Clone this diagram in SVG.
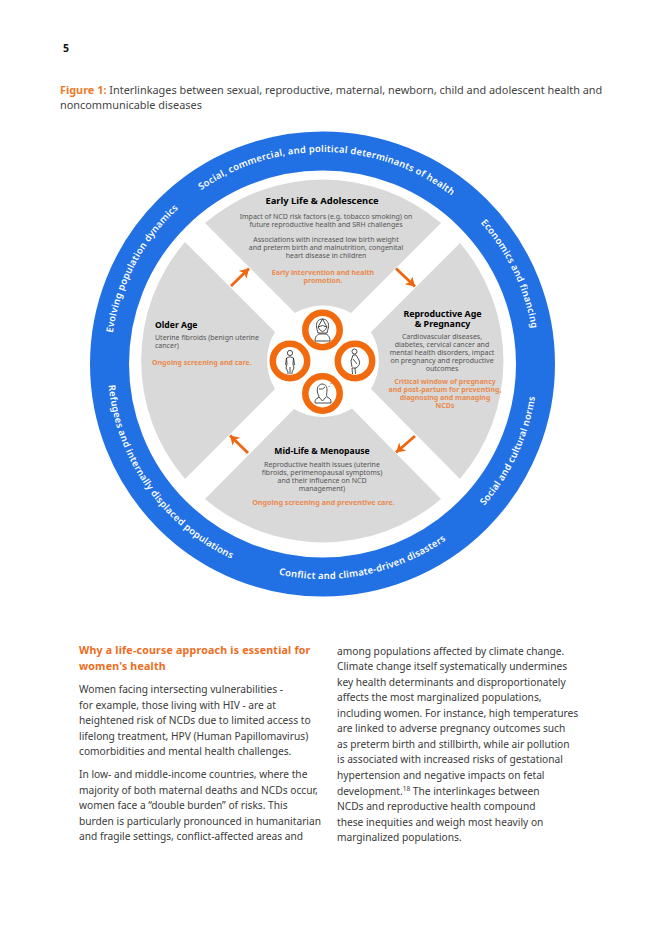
<svg xmlns="http://www.w3.org/2000/svg" width="662" height="936" viewBox="0 0 662 936">
<style>
text{font-family:"Noto Sans","Liberation Sans",sans-serif}
.t{font-size:8.6px;font-weight:700;fill:#000;text-anchor:middle}
.b{font-size:7px;fill:#555;text-anchor:middle}
.o{font-size:7px;font-weight:700;fill:#EA8A4E;text-anchor:middle}
.s{fill:#D9D9D9}
.r{font-size:9.4px;font-weight:600;fill:#fff;letter-spacing:.24px}
.p{font-size:10.2px;fill:#3a3a3a}
.h{font-size:10.6px;font-weight:700;fill:#EE6C1C;letter-spacing:.21px}
.c{font-size:10.9px;fill:#444}
.ring{fill:none;stroke:#F26A0E;stroke-width:6.5}
.ic{fill:none;stroke:#222;stroke-width:.8}
.a{fill:none;stroke:#F0650F;stroke-width:2.8;marker-end:url(#ah)}
</style>
<defs>
<marker id="ah" markerUnits="userSpaceOnUse" markerWidth="10" markerHeight="12" refX="9" refY="5.5" orient="auto"><path d="M0,0 L9,5.5 L0,11 L2.5,5.5Z" fill="#F0650F"/></marker>
<path id="cw" d="M322.5,576 A212,212 0 1 1 322.5,152 A212,212 0 1 1 322.5,576"/>
<path id="ccw" d="M322.5,149 A215,215 0 1 0 322.5,579 A215,215 0 1 0 322.5,149"/>
</defs>
<rect width="662" height="936" fill="#fff"/>
<text x="63" y="52" font-size="10.5" font-weight="700" fill="#111">5</text>
<text class="c" y="94"><tspan x="60" font-weight="700" fill="#EE7A2A">Figure 1:</tspan> Interlinkages between sexual, reproductive, maternal, newborn, child and adolescent health and</text>
<text class="c" x="60" y="109">noncommunicable diseases</text>

<g id="outer-ring">
<circle cx="322.5" cy="364" r="213" fill="none" stroke="#2170E4" stroke-width="39"/>
<text class="r"><textPath href="#cw" startOffset="536.5">Social, commercial, and political determinants of health</textPath></text>
<text class="r"><textPath href="#cw" startOffset="364">Evolving population dynamics</textPath></text>
<text class="r"><textPath href="#cw" startOffset="844">Economics and financing</textPath></text>
<text class="r"><textPath href="#ccw" startOffset="359">Refugees and internally displaced populations</textPath></text>
<text class="r"><textPath href="#ccw" startOffset="631">Conflict and climate-driven disasters</textPath></text>
<text class="r"><textPath href="#ccw" startOffset="858">Social and cultural norms</textPath></text>
</g>

<g id="early-life">
<path class="s" d="M295,313 L205,223 A182,182 0 0 1 441,223 L351,313 A55.5,55.5 0 0 0 295,313Z"/>
<text class="t" style="font-size:9.4px" x="322" y="204">Early Life &amp; Adolescence</text>
<text class="b" x="326" y="218.5">Impact of NCD risk factors (e.g. tobacco smoking) on</text>
<text class="b" x="326" y="226.7">future reproductive health and SRH challenges</text>
<text class="b" x="326" y="241.7">Associations with increased low birth weight</text>
<text class="b" x="326" y="249.7">and preterm birth and malnutrition, congenital</text>
<text class="b" x="326" y="257.7">heart disease in children</text>
<text class="o" x="323" y="275">Early intervention and health</text>
<text class="o" x="323" y="283">promotion.</text>
</g>
<g id="reproductive-age">
<path class="s" d="M371,332 L460,243 A182,182 0 0 1 460,479 L371,389 A55.5,55.5 0 0 0 371,332Z"/>
<text class="t" style="font-size:8.9px" x="442.500" y="316.500">Reproductive Age</text>
<text class="t" style="font-size:8.9px" x="442.500" y="326.500">&amp; Pregnancy</text>
<text class="b" x="442" y="339">Cardiovascular diseases,</text>
<text class="b" x="442" y="347">diabetes, cervical cancer and</text>
<text class="b" x="442" y="355">mental health disorders, impact</text>
<text class="b" x="442" y="363">on pregnancy and reproductive</text>
<text class="b" x="442" y="371">outcomes</text>
<text class="o" x="445" y="384">Critical window of pregnancy</text>
<text class="o" x="445" y="392">and post-partum for preventing,</text>
<text class="o" x="445" y="400">diagnosing and managing</text>
<text class="o" x="445" y="408">NCDs</text>
</g>
<g id="mid-life">
<path class="s" d="M294,409 L205,499 A182,182 0 0 0 441,499 L352,408.500 A55.5,55.5 0 0 1 294,409Z"/>
<text class="t" x="322" y="453.500">Mid-Life &amp; Menopause</text>
<text class="b" x="322" y="467">Reproductive health issues (uterine</text>
<text class="b" x="322" y="475">fibroids, perimenopausal symptoms)</text>
<text class="b" x="322" y="483">and their influence on NCD</text>
<text class="b" x="322" y="491">management)</text>
<text class="o" style="font-size:7.2px" x="323.500" y="505">Ongoing screening and preventive care.</text>
</g>
<g id="older-age">
<path class="s" d="M275,332 L185,242 A182,182 0 0 0 185,479 L275,389 A55.5,55.5 0 0 1 275,332Z"/>
<text class="t" style="text-anchor:start" x="155" y="327.500">Older Age</text>
<text class="b" style="text-anchor:start" x="155" y="340">Uterine fibroids (benign uterine</text>
<text class="b" style="text-anchor:start" x="155" y="348">cancer)</text>
<text class="o" style="text-anchor:start" x="152" y="364.700">Ongoing screening and care.</text>
</g>

<g id="connectors">
<path class="a" d="M231,286 L249,268.500"/>
<path class="a" d="M396,268.500 L415,286.500"/>
<path class="a" d="M415,436 L396,452.500"/>
<path class="a" d="M248,453 L230,435.500"/>
</g>

<g id="icon-early">
<circle class="ring" cx="322.500" cy="330" r="17.200"/>
<path class="ic" d="M322.500,319 C327,319 329,323 328.500,327 L327,333 H318 L316.500,327 C316,323 318,319 322.500,319Z M322.500,319 L318,327 M322.500,319 L327,327 M318,327 Q322.500,336 327,327 M318,327 Q322.500,324 327,327"/>
<path class="ic" d="M315,341 C315,336 318,334 320,334 H325 C327,334 330,336 330,341 Z"/>
</g>
<g id="icon-older">
<circle class="ring" cx="290" cy="361" r="17.200"/>
<circle class="ic" cx="290" cy="353" r="2.600"/>
<path class="ic" d="M286.500,358 Q290,355.500 293.500,358 L293,364 L294,368 L292,372 V374 M286.500,358 L287,364 L286,368 L288,372 V374 M290,367 V374 M286.500,358 L285.500,365 M293.500,358 L294.500,365"/>
</g>
<g id="icon-repro">
<circle class="ring" cx="355" cy="361" r="17.200"/>
<circle class="ic" cx="354.500" cy="351.500" r="2.500"/>
<path class="ic" d="M353,355 L351,361 L352,367 M353,355 H356 L359,360 Q361,365 356,368 H352 L352.500,374 M355,368 L355.500,374 M353,359 L357,364"/>
</g>
<g id="icon-mid">
<circle class="ring" cx="322.500" cy="393.500" r="17.200"/>
<path class="ic" d="M322,384 C325,384 327,386 327,390 C327,393 326,395 327,397 L329,398 C331,399 331,402 331,403 H315 C315,401 315,399 318,398 L319,396 C317,393 317,391 317.500,388 C318,386 320,384 322,384Z M319,389 Q323,390 325,387 M319,397 L322.500,401 L326,397"/>
<path class="ic" d="M329,386 V386.800 M331,383 V383.800"/>
</g>

<text class="h" x="79" y="654">Why a life-course approach is essential for</text>
<text class="h" x="79" y="670">women's health</text>
<g class="p">
<text class="p" x="79" y="693">Women facing intersecting vulnerabilities -</text>
<text class="p" x="79" y="708.600">for example, those living with HIV - are at</text>
<text class="p" x="79" y="724.200">heightened risk of NCDs due to limited access to</text>
<text class="p" x="79" y="739.800">lifelong treatment, HPV (Human Papillomavirus)</text>
<text class="p" x="79" y="755.400">comorbidities and mental health challenges.</text>
<text class="p" x="79" y="778">In low- and middle-income countries, where the</text>
<text class="p" x="79" y="793.600">majority of both maternal deaths and NCDs occur,</text>
<text class="p" x="79" y="809.200">women face a “double burden” of risks. This</text>
<text class="p" x="79" y="824.800">burden is particularly pronounced in humanitarian</text>
<text class="p" x="79" y="840.400">and fragile settings, conflict-affected areas and</text>
<text class="p" x="337" y="654.500">among populations affected by climate change.</text>
<text class="p" x="337" y="670">Climate change itself systematically undermines</text>
<text class="p" x="337" y="685.600">key health determinants and disproportionately</text>
<text class="p" x="337" y="701.200">affects the most marginalized populations,</text>
<text class="p" x="337" y="716.700">including women. For instance, high temperatures</text>
<text class="p" x="337" y="732.300">are linked to adverse pregnancy outcomes such</text>
<text class="p" x="337" y="747.800">as preterm birth and stillbirth, while air pollution</text>
<text class="p" x="337" y="763.400">is associated with increased risks of gestational</text>
<text class="p" x="337" y="779">hypertension and negative impacts on fetal</text>
<text class="p" x="337" y="794.500">development.<tspan font-size="6.500" dy="-3.500">18</tspan><tspan dy="3.500"> The interlinkages between</tspan></text>
<text class="p" x="337" y="810">NCDs and reproductive health compound</text>
<text class="p" x="337" y="825.600">these inequities and weigh most heavily on</text>
<text class="p" x="337" y="841">marginalized populations.</text>
</g>
</svg>
